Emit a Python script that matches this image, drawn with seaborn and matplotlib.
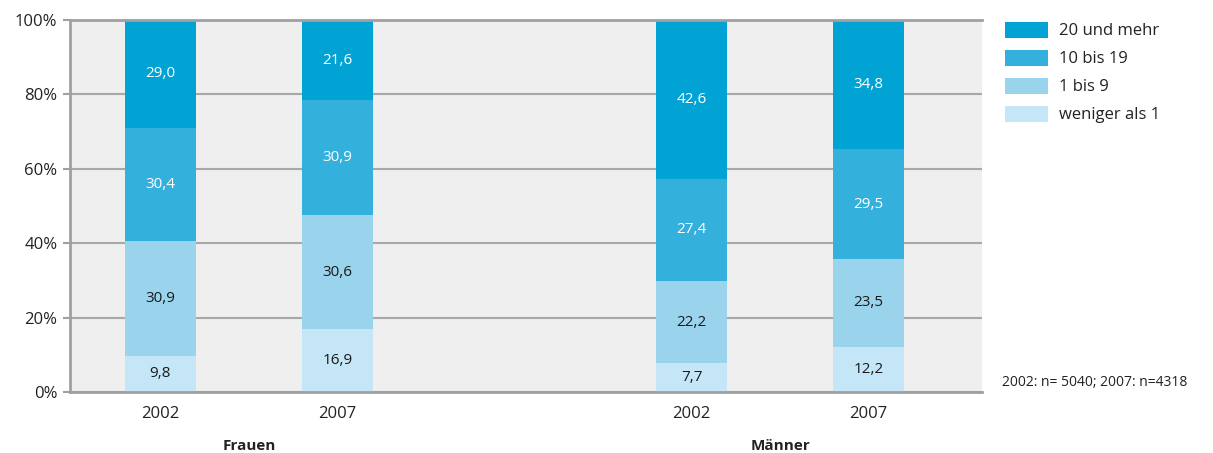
import numpy as np
import pandas as pd
import matplotlib
matplotlib.use('Agg')
import matplotlib.pyplot as plt
from matplotlib.patches import Patch
import seaborn as sns

# Daten
jahre = ['2002', '2007', '2002', '2007']
gruppen = ['Frauen', 'Männer']
kategorien = ['weniger als 1', '1 bis 9', '10 bis 19', '20 und mehr']
weniger_als_1 = [9.8, 16.9, 7.7, 12.2]
bis_9 = [30.9, 30.6, 22.2, 23.5]
bis_19 = [30.4, 30.9, 27.4, 29.5]
und_mehr = [29.0, 21.6, 42.6, 34.8]
positionen = [0, 1, 3, 4]

farben = ['#c5e6f6', '#99d3ec', '#33b1dc', '#00a3d4']
textfarben = ['#1a1a1a', '#1a1a1a', 'white', 'white']

sns.set_theme(style='white')
plt.rcParams['font.family'] = ['Open Sans', 'DejaVu Sans']

werte = np.array([weniger_als_1, bis_9, bis_19, und_mehr])
kumuliert = werte.cumsum(axis=0)
unten = kumuliert - werte

fig = plt.figure(figsize=(12.13, 4.53), dpi=100)
ax = fig.add_axes([0.0577, 0.1347, 0.7519, 0.8211])
ax.set_facecolor('#efefef')

# gestapelte Balken: von oben nach unten übereinander zeichnen
for i in reversed(range(len(kategorien))):
    df = pd.DataFrame({'pos': positionen, 'wert': np.minimum(kumuliert[i], 100)})
    sns.barplot(data=df, x='pos', y='wert', native_scale=True, width=0.4,
                color=farben[i], saturation=1, linewidth=0, ax=ax)

# Beschriftungen in den Segmenten
for i in range(len(kategorien)):
    for j, p in enumerate(positionen):
        ax.text(p, unten[i][j] + werte[i][j] / 2, f"{werte[i][j]:.1f}".replace('.', ','),
                ha='center', va='center', fontsize=11, color=textfarben[i])

ax.set_xlim(-0.51, 4.64)
ax.set_ylim(0, 100)
ax.set_yticks([0, 20, 40, 60, 80, 100])
ax.set_yticklabels(['0%', '20%', '40%', '60%', '80%', '100%'], fontsize=12, color='#222222')
ax.set_xticks(positionen)
ax.set_xticklabels(jahre, fontsize=12, color='#222222')
ax.set_xlabel('')
ax.set_ylabel('')
ax.tick_params(axis='y', length=5, width=1.5, color='#a0a0a0', pad=4, left=True)
ax.tick_params(axis='x', length=0, pad=10)

ax.yaxis.grid(True, color='#a8a8a8', linewidth=1.5)
ax.set_axisbelow(True)
ax.spines['right'].set_visible(False)
for s in ['top', 'left', 'bottom']:
    ax.spines[s].set_color('#a0a0a0')
    ax.spines[s].set_linewidth(2)

# Gruppenbeschriftungen
trans = ax.get_xaxis_transform()
for g, mitte in zip(gruppen, [0.5, 3.5]):
    ax.text(mitte, -0.145, g, transform=trans, ha='center', va='center',
            fontsize=11, fontweight='bold', color='#222222')

# Legende
handles = [Patch(facecolor=farben[i], edgecolor='none', label=kategorien[i])
           for i in reversed(range(len(kategorien)))]
fig.legend(handles=handles, loc='upper left', bbox_to_anchor=(0.816, 0.985),
           frameon=False, fontsize=12, handlelength=2.6, handleheight=1.1,
           labelspacing=0.62, handletextpad=0.65, labelcolor='#222222')

fig.text(0.826, 0.155, '2002: n= 5040; 2007: n=4318', fontsize=10,
         color='#222222', ha='left', va='center')

fig.savefig('out.png', dpi=100)
